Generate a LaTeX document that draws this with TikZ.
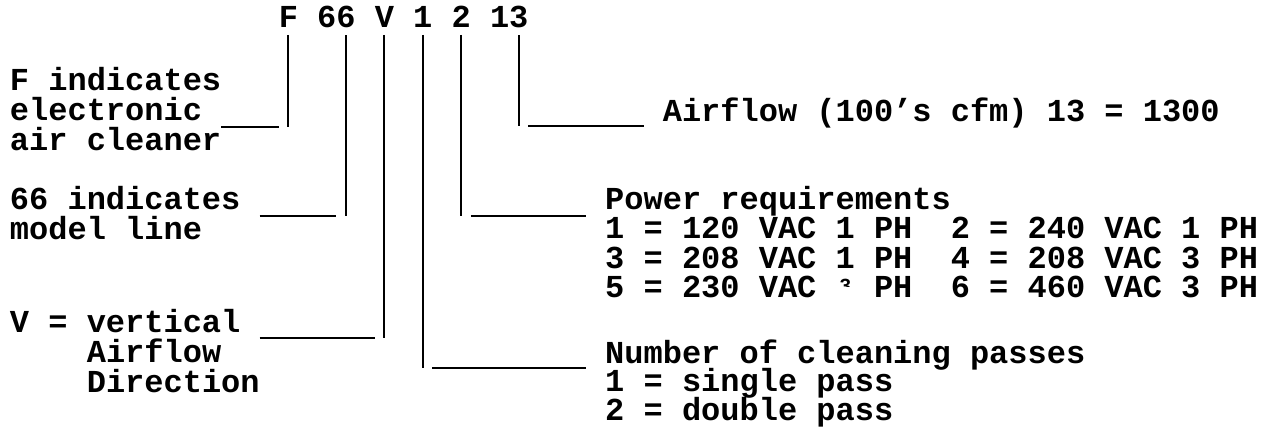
\documentclass[tikz,border=0pt]{standalone}
\usepackage{fontspec}
\setmainfont{Liberation Mono}
\begin{document}
\begin{tikzpicture}[x=19.2pt, y=-1pt,
    font=\bfseries\fontsize{32}{36}\selectfont,
    txt/.style={anchor=base west, inner sep=0pt, outer sep=0pt},
    bar/.style={line width=2pt, shorten <=7pt},
    rule/.style={line width=2.2pt}]
    \useasboundingbox (-0.5208,0) rectangle (66.0938,428);
    % 型式コード
    \node[txt] (cF) at (14,28) {F};
    \node[txt] (c6a) at (16,28) {6};
    \node[txt] (c6b) at (17,28) {6};
    \node[txt] (cV) at (19,28) {V};
    \node[txt] (c1) at (21,28) {1};
    \node[txt] (c2) at (23,28) {2};
    \node[txt] (c1b) at (25,28) {1};
    \node[txt] (c3) at (26,28) {3};
    % 左の説明
    \node[txt] (lF1) at (0,90) {F indicates};
    \node[txt] (lF2) at (0,120) {electronic};
    \node[txt] (lF3) at (0,150) {air cleaner};
    \node[txt] (l66a) at (0,209) {66 indicates};
    \node[txt] (l66b) at (0,239) {model line};
    \node[txt] (lV1) at (0,332) {V = vertical};
    \node[txt] (lV2) at (4,362) {Airflow};
    \node[txt] (lV3) at (4,392) {Direction};
    % 右の説明
    \node[txt] (lA) at (34,121) {Airflow (100's cfm) 13 = 1300};
    \node[txt] (lP0) at (31,209) {Power requirements};
    \node[txt] (lP1) at (31,238.5) {1 = 120 VAC 1 PH\ \ 2 = 240 VAC 1 PH};
    \node[txt] (lP2) at (31,268) {3 = 208 VAC 1 PH\ \ 4 = 208 VAC 3 PH};
    \node[txt] (lP3) at (31,297.5) {5 = 230 VAC \phantom{3} PH\ \ 6 = 460 VAC 3 PH};
    \node[txt] (lN0) at (31,363) {Number of cleaning passes};
    \node[txt] (lN1) at (31,391) {1 = single pass};
    \node[txt] (lN2) at (31,420) {2 = double pass};
    % かすれた 3
    \begin{scope}
      \clip (43,274) rectangle (44,286);
      \node[txt, font=\bfseries\fontsize{20}{20}\selectfont] (lP3x) at (43.2,292) {3};
    \end{scope}
    % 下線の端
    \coordinate (uF1) at (11,127);   \coordinate (uF2) at (14,127);
    \coordinate (u13a) at (27,126);  \coordinate (u13b) at (33,126);
    \coordinate (u66a) at (13,216);  \coordinate (u66b) at (17,216);
    \coordinate (u2a) at (24,216);   \coordinate (u2b) at (30,216);
    \coordinate (uVa) at (13,338);   \coordinate (uVb) at (19,338);
    \coordinate (u1a) at (22,368);   \coordinate (u1b) at (30,368);
    % 縦線
    \draw[bar] (cF.south) -- (cF.south |- uF2);
    \draw[bar] (c6b.south) -- (c6b.south |- u66b);
    \draw[bar] (cV.south) -- (cV.south |- uVb);
    \draw[bar] (c1.south) -- (c1.south |- u1a);
    \draw[bar] (c2.south) -- (c2.south |- u2a);
    \draw[bar] (c3.south) -- (c3.south |- u13a);
    % 横線
    \draw[rule] (uF1) -- (uF2);
    \draw[rule] (u13a) -- (u13b);
    \draw[rule] (u66a) -- (u66b);
    \draw[rule] (u2a) -- (u2b);
    \draw[rule] (uVa) -- (uVb);
    \draw[rule] (u1a) -- (u1b);
\end{tikzpicture}
\end{document}
